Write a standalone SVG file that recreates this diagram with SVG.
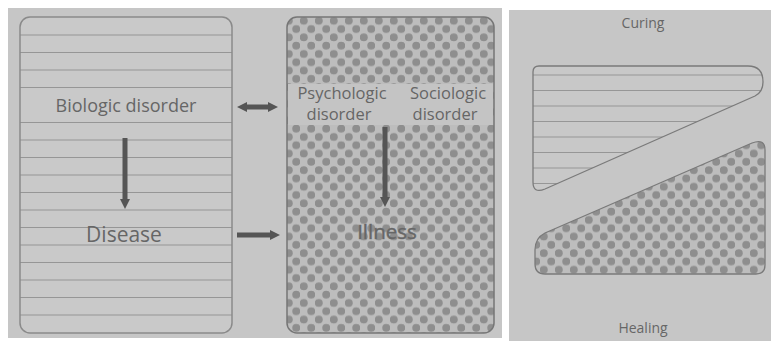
<svg xmlns="http://www.w3.org/2000/svg" width="771" height="341" viewBox="0 0 771 341">
  <style>
    .panel { fill: #c6c6c6; }
    .lbl { font-family: "Open Sans", "Liberation Sans", sans-serif; fill: #666666; text-anchor: middle; }
    .stripe { stroke: #969696; stroke-width: 1.2; }
    .conn { stroke: #555555; stroke-width: 5; fill: none; }
  </style>
  <defs>
    <pattern id="dots" patternUnits="userSpaceOnUse" width="15" height="16.6">
      <rect width="15" height="16.6" fill="#bdbdbd"/>
      <circle cx="3.75" cy="4.15" r="4" fill="#8e8e8e"/>
      <circle cx="11.25" cy="12.45" r="4" fill="#8e8e8e"/>
    </pattern>
    <marker id="head" viewBox="0 0 10 10" markerUnits="userSpaceOnUse" markerWidth="10" markerHeight="11" refX="1" refY="5" orient="auto-start-reverse">
      <path d="M0,0 L10,5 L0,10 Z" fill="#555555"/>
    </marker>
    <clipPath id="leftClip">
      <rect x="20" y="17" width="212" height="316" rx="10"/>
    </clipPath>
    <clipPath id="curClip">
      <path d="M533,72 Q533,66 539,66 L748,66 Q763,66 763,82 Q763,92 755,96 L545,189 Q533,194 533,182 Z"/>
    </clipPath>
  </defs>

  <rect x="0" y="0" width="771" height="341" fill="#ffffff"/>
  <rect class="panel" x="8" y="8" width="494" height="330"/>
  <rect class="panel" x="509" y="10" width="262" height="331"/>

  <g id="disease-box">
    <rect x="20" y="17" width="212" height="316" rx="10" fill="#c9c9c9"/>
    <g clip-path="url(#leftClip)">
      <line class="stripe" x1="20" x2="232" y1="35" y2="35"/>
      <line class="stripe" x1="20" x2="232" y1="52.5" y2="52.5"/>
      <line class="stripe" x1="20" x2="232" y1="70" y2="70"/>
      <line class="stripe" x1="20" x2="232" y1="87.5" y2="87.5"/>
      <line class="stripe" x1="20" x2="232" y1="122.5" y2="122.5"/>
      <line class="stripe" x1="20" x2="232" y1="140" y2="140"/>
      <line class="stripe" x1="20" x2="232" y1="157.5" y2="157.5"/>
      <line class="stripe" x1="20" x2="232" y1="175" y2="175"/>
      <line class="stripe" x1="20" x2="232" y1="192.5" y2="192.5"/>
      <line class="stripe" x1="20" x2="232" y1="210" y2="210"/>
      <line class="stripe" x1="20" x2="232" y1="227.5" y2="227.5"/>
      <line class="stripe" x1="20" x2="232" y1="245" y2="245"/>
      <line class="stripe" x1="20" x2="232" y1="262.5" y2="262.5"/>
      <line class="stripe" x1="20" x2="232" y1="280" y2="280"/>
      <line class="stripe" x1="20" x2="232" y1="297.5" y2="297.5"/>
      <line class="stripe" x1="20" x2="232" y1="315" y2="315"/>
    </g>
    <rect x="20" y="17" width="212" height="316" rx="10" fill="none" stroke="#8a8a8a" stroke-width="1.5"/>
    <text class="lbl" x="126" y="112" font-size="18">Biologic disorder</text>
    <text class="lbl" x="124" y="242" font-size="21">Disease</text>
  </g>

  <g id="illness-box">
    <rect x="287" y="17" width="207" height="316" rx="10" fill="url(#dots)" stroke="#767676" stroke-width="1.5"/>
    <rect x="288" y="84" width="205" height="41" fill="#c4c4c4"/>
    <text class="lbl" x="342" y="99" font-size="16.5">Psychologic</text>
    <text class="lbl" x="339" y="120" font-size="16.5">disorder</text>
    <text class="lbl" x="448" y="99" font-size="16.5">Sociologic</text>
    <text class="lbl" x="445" y="120" font-size="16.5">disorder</text>
    <text class="lbl" x="387" y="239" font-size="20.5" fill="#d6d6d6" stroke="#7a7a7a" stroke-width="0.6" paint-order="stroke">Illness</text>
  </g>

  <g id="curing">
    <text class="lbl" x="643" y="28" font-size="14">Curing</text>
    <path d="M533,72 Q533,66 539,66 L748,66 Q763,66 763,82 Q763,92 755,96 L545,189 Q533,194 533,182 Z" fill="#c8c8c8"/>
    <g clip-path="url(#curClip)">
      <line class="stripe" x1="533" x2="765" y1="75" y2="75"/>
      <line class="stripe" x1="533" x2="765" y1="90.5" y2="90.5"/>
      <line class="stripe" x1="533" x2="765" y1="106" y2="106"/>
      <line class="stripe" x1="533" x2="765" y1="121.5" y2="121.5"/>
      <line class="stripe" x1="533" x2="765" y1="137" y2="137"/>
      <line class="stripe" x1="533" x2="765" y1="152.5" y2="152.5"/>
      <line class="stripe" x1="533" x2="765" y1="168" y2="168"/>
      <line class="stripe" x1="533" x2="765" y1="183.5" y2="183.5"/>
    </g>
    <path d="M533,72 Q533,66 539,66 L748,66 Q763,66 763,82 Q763,92 755,96 L545,189 Q533,194 533,182 Z" fill="none" stroke="#7a7a7a" stroke-width="1.3"/>
  </g>

  <g id="healing">
    <path d="M752,143 Q765,138 765,150 L765,265 Q765,274 756,274 L545,274 Q535,274 535,264 L535,250 Q535,238 545,233 Z" fill="url(#dots)" stroke="#7a7a7a" stroke-width="1.3"/>
    <text class="lbl" x="643" y="333" font-size="14">Healing</text>
  </g>

  <g id="connectors">
    <line class="conn" x1="125" y1="138" x2="125" y2="200" marker-end="url(#head)"/>
    <line class="conn" x1="246" y1="107" x2="269" y2="107" marker-start="url(#head)" marker-end="url(#head)"/>
    <line class="conn" x1="237" y1="235" x2="271" y2="235" marker-end="url(#head)"/>
    <line class="conn" x1="385" y1="127" x2="385" y2="198" marker-end="url(#head)"/>
  </g>
</svg>
